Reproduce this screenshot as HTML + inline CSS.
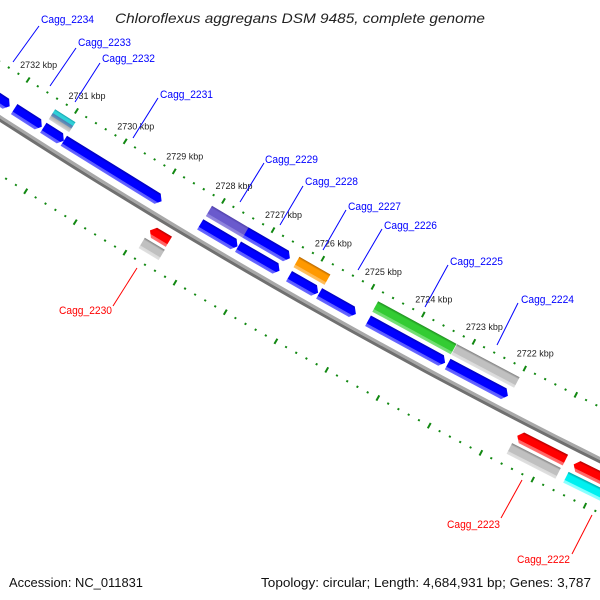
<!DOCTYPE html>
<html><head><meta charset="utf-8"><style>
html,body{margin:0;padding:0;background:#fff;}
svg{display:block;}
</style></head><body>
<svg id="map" xmlns="http://www.w3.org/2000/svg" width="600" height="600" viewBox="0 0 600 600">
<rect x="0" y="0" width="600" height="600" fill="#fff"/>
<defs id="defs"></defs>
<g id="ticks"></g>
<g id="backbone"></g>
<g id="features"></g>
<g id="leaders"></g>
<g id="labels" font-family="Liberation Sans, sans-serif"></g>
<text x="115" y="23" font-family="Liberation Sans, sans-serif" font-style="italic" font-size="14" fill="#222" textLength="370" lengthAdjust="spacingAndGlyphs">Chloroflexus aggregans DSM 9485, complete genome</text>
<text x="9" y="587" font-family="Liberation Sans, sans-serif" font-size="13" fill="#111" textLength="134" lengthAdjust="spacingAndGlyphs">Accession: NC_011831</text>
<text x="261" y="587" font-family="Liberation Sans, sans-serif" font-size="13" fill="#111" textLength="330" lengthAdjust="spacingAndGlyphs">Topology: circular; Length: 4,684,931 bp; Genes: 3,787</text>
</svg>
<script>
// ---- data ----
const featStart = [2733.5,2731.93,2731.33,2731.33,2730.91,2728.83,2728.84,2728.14,2728.13,2727.38,2727.39,2726.36,2726.37,2725.76,2724.79,2724.80,2723.22,2723.24,2721.58,2721.60,2720.49,2720.51];
const featEnd   = [2732.02,2731.36,2730.91,2730.91,2728.92,2728.45,2728.44,2727.39,2727.38,2726.55,2726.50,2725.78,2725.75,2725.03,2723.27,2723.25,2722.04,2722.01,2720.65,2720.66,2719.0,2719.0];
const featRow   = ["B","B","B","A","B","C","D","B","A","B","A","B","A","B","B","A","B","A","C","D","C","D"];
const featColor = ["blue","blue","blue","stack","blue","red","gray","blue","purple","blue","blue","blue","orange","blue","blue","green","blue","gray","red","gray","red","cyan"];
const featShape = ["fwd","fwd","fwd","rect","fwd","rev","rect","fwd","rect","fwd","fwd","fwd","rect","fwd","fwd","rect","fwd","rect","rev","rect","rev","rect"];
const tickKbp = [2732,2731,2730,2729,2728,2727,2726,2725,2724,2723,2722];
const tickLabels = ["2732 kbp","2731 kbp","2730 kbp","2729 kbp","2728 kbp","2727 kbp","2726 kbp","2725 kbp","2724 kbp","2723 kbp","2722 kbp"];
const geneNames = ["Cagg_2234","Cagg_2233","Cagg_2232","Cagg_2231","Cagg_2229","Cagg_2228","Cagg_2227","Cagg_2226","Cagg_2225","Cagg_2224","Cagg_2230","Cagg_2223","Cagg_2222"];

// ---- geometry ----
const CX=3376, CY=-5111, K0=2732, PHI0=122.82, DPHI=0.533;
const rows={A:[6187,6199],B:[6203,6215],C:[6234,6246],D:[6249,6261]};
function P(k,r){const ph=(PHI0+(k-K0)*DPHI)*Math.PI/180;return [CX+r*Math.cos(ph),CY+r*Math.sin(ph)];}
const NS="http://www.w3.org/2000/svg";
function mk(tag,attrs,parent){const e=document.createElementNS(NS,tag);for(const a in attrs)e.setAttribute(a,attrs[a]);parent.appendChild(e);return e;}
const pal={
 blue:[["0","#0000b8"],["0.2","#0000ff"],["0.72","#0000ff"],["0.75","#5a5aff"],["1","#6a6aff"]],
 red:[["0","#b00000"],["0.2","#ff0000"],["0.72","#ff0000"],["0.75","#ff6060"],["1","#ff7070"]],
 gray:[["0","#808080"],["0.2","#c0c0c0"],["0.72","#c0c0c0"],["0.75","#dadada"],["1","#e0e0e0"]],
 purple:[["0","#5040a8"],["0.2","#6a5acd"],["0.72","#6a5acd"],["0.75","#8c80dc"],["1","#9488e0"]],
 orange:[["0","#b86800"],["0.2","#ff9900"],["0.72","#ff9900"],["0.75","#ffb850"],["1","#ffc060"]],
 green:[["0","#209020"],["0.2","#33cc33"],["0.72","#33cc33"],["0.75","#70dd70"],["1","#78e078"]],
 cyan:[["0","#00a8a8"],["0.2","#00f0f0"],["0.72","#00f0f0"],["0.75","#80ffff"],["1","#90ffff"]],
 stack:[["0","#10a0a8"],["0.15","#30d0d8"],["0.35","#30d0d8"],["0.4","#4a80b4"],["0.62","#6a90b8"],["0.66","#b0b0b0"],["1","#d8d8d8"]]
};
const defs=document.getElementById('defs');

// ticks
const tg=document.getElementById('ticks');
[[6177,"upper"],[6272,"lower"]].forEach(([rr,nm])=>{
 for(let i=0;i<=90;i++){
  const k=2737-i*0.2; const isMaj=Math.abs(k-Math.round(k))<0.01;
  const h=isMaj?3:1;
  const a=P(k,rr-h), b=P(k,rr+h);
  const ln=mk('line',{x1:a[0].toFixed(1),y1:a[1].toFixed(1),x2:b[0].toFixed(1),y2:b[1].toFixed(1),stroke:"#118811","stroke-width":2},tg);
  
  
 }
});
tickKbp.forEach((k,i)=>{
 const p=P(k,6177);
 const t=mk('text',{x:(p[0]-8).toFixed(1),y:(p[1]-12).toFixed(1),"font-size":"9","fill":"#222","font-family":"Liberation Sans, sans-serif"},tg);
 t.textContent=tickLabels[i];
 
 
});

// backbone
const bg=document.getElementById('backbone');
function arcPts(r){const pts=[];for(let k=2736;k>=2717;k-=0.5){const p=P(k,r);pts.push(p[0].toFixed(1)+','+p[1].toFixed(1));}return pts.join(' ');}
const b1=mk('polyline',{points:arcPts(6223),fill:"none",stroke:"#a8a8a8","stroke-width":3},bg);


const b2=mk('polyline',{points:arcPts(6226),fill:"none",stroke:"#707070","stroke-width":3},bg);



// features
const fg=document.getElementById('features');
const TIP=0.08;
featStart.forEach((k1,i)=>{
 const k2=featEnd[i]; const [r1,r2]=rows[featRow[i]]; const rm=(r1+r2)/2;
 let pts;
 if(featShape[i]==="fwd") pts=[P(k1,r1),P(k2+TIP,r1),P(k2,rm),P(k2+TIP,r2),P(k1,r2)];
 else if(featShape[i]==="rev") pts=[P(k1,rm),P(k1-TIP,r1),P(k2,r1),P(k2,r2),P(k1-TIP,r2)];
 else pts=[P(k1,r1),P(k2,r1),P(k2,r2),P(k1,r2)];
 const km=(k1+k2)/2, ga=P(km,r1), gb=P(km,r2);
 const gr=mk('linearGradient',{id:'g'+i,gradientUnits:"userSpaceOnUse",x1:ga[0],y1:ga[1],x2:gb[0],y2:gb[1]},defs);
 pal[featColor[i]].forEach(s=>mk('stop',{offset:s[0],"stop-color":s[1]},gr));
 const pg=mk('polygon',{points:pts.map(p=>p[0].toFixed(1)+','+p[1].toFixed(1)).join(' '),fill:'url(#g'+i+')'},fg);
 
 
});

// labels + leaders (screen positions)
const labX=[41,78,102,160,265,305,348,384,450,521,59,447,517];
const labY=[23,46,62,98,163,185,210,229,265,303,314,528,563];
const ldr=[[39,26,13,62],[76,48,50,86],[100,63,75,102],[158,98,133,138],[264,163,240,202],[303,186,280,225],[346,210,323,250],[382,229,358,270],[448,265,425,307],[518,303,497,345],[137,268,113,306],[522,480,501,518],[592,515,572,554]];
const lg=document.getElementById('leaders'), lb=document.getElementById('labels');
geneNames.forEach((n,i)=>{
 const col=(i>=10)?"#ff0000":"#0000ff";
 const l=ldr[i];
 const ln=mk('line',{x1:l[0],y1:l[1],x2:l[2],y2:l[3],stroke:col,"stroke-width":1},lg);
 
 
 const t=mk('text',{x:labX[i],y:labY[i],"font-size":"11",fill:col,textLength:"53",lengthAdjust:"spacingAndGlyphs"},lb);
 t.textContent=n;
 
 
});
</script>
</body></html>
